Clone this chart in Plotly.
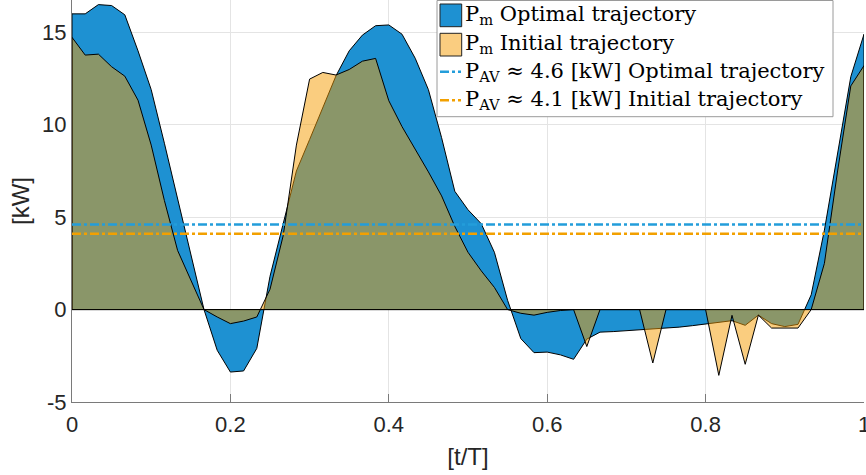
import plotly.graph_objects as go

# Normalised time grid (one period, 61 samples)
t = [k / 60 for k in range(61)]

# Mechanical power [kW] along the optimal trajectory
p_opt = [16.0, 16.0, 16.5, 16.45, 15.95, 14.0, 11.9, 9.0, 6.0, 2.9,
         0.0, -2.2, -3.38, -3.32, -2.1, 1.8, 4.7, 7.5, 9.2, 10.9,
         12.65, 14.0, 14.85, 15.36, 15.4, 14.9, 13.6, 11.9, 9.3, 6.4,
         5.4, 4.65, 3.1, 0.5, -1.57, -2.33, -2.3, -2.45, -2.69, -1.6,
         -1.22, -1.19, -1.15, -1.11, -1.07, -1.02, -0.95, -0.87, -0.77, -0.7,
         -0.6, -0.85, -0.3, -0.76, -0.92, -0.8, 0.8, 4.3, 8.5, 12.6,
         14.9]

# Mechanical power [kW] along the initial trajectory
p_init = [14.73, 13.77, 13.82, 13.14, 12.63, 11.33, 8.9, 5.9, 3.2, 1.6,
          0.0, -0.4, -0.76, -0.62, -0.4, 1.1, 4.0, 8.9, 12.47, 12.83,
          12.69, 12.99, 13.44, 13.59, 11.3, 9.9, 8.7, 7.45, 6.15, 4.5,
          3.1, 2.1, 1.2, 0.0, -0.2, -0.3, -0.15, -0.05, 0.0, -2.0,
          0.0, 0.0, 0.0, 0.0, -2.89, 0.0, 0.0, 0.0, 0.0, -3.56,
          -0.31, -2.96, -0.3, -1.0, -1.02, -1.0, 0.0, 2.5, 7.5, 12.1,
          13.2]

# Average power levels [kW]
pav_opt = 4.6
pav_init = 4.1

x_ticks = [0, 0.2, 0.4, 0.6, 0.8, 1]
x_tick_labels = ["0", "0.2", "0.4", "0.6", "0.8", "1"]
y_ticks = [-5, 0, 5, 10, 15]
y_tick_labels = ["-5", "0", "5", "10", "15"]

legend_labels = [
    "P<sub>m</sub> Optimal trajectory",
    "P<sub>m</sub> Initial trajectory",
    "P<sub>AV</sub> \u2248 %.1f [kW] Optimal trajectory" % pav_opt,
    "P<sub>AV</sub> \u2248 %.1f [kW] Initial trajectory" % pav_init,
]

BLUE = "rgb(30,145,210)"
ORANGE = "rgba(245,155,0,0.5)"
BLUE_LINE = "rgb(35,157,218)"
ORANGE_LINE = "rgb(242,160,0)"
DASHDOT = "9px,3px,3px,3px"

W, H = 866, 475
ML, MR, MT, MB = 72, 2, 0, 73
PW, PH = W - ML - MR, H - MT - MB


def px(xp):
    return (xp - ML) / PW


def py(yp):
    return 1 - (yp - MT) / PH


def area_polygon(xs, ys):
    # closed outline: baseline -> curve -> baseline -> start
    return [xs[0]] + xs + [xs[-1], xs[0]], [0] + ys + [0, 0]


fig = go.Figure()

ax, ay = area_polygon(t, p_opt)
fig.add_trace(go.Scatter(x=ax, y=ay, mode="lines", fill="toself",
                         fillcolor=BLUE, line=dict(color="black", width=1),
                         showlegend=False, hoverinfo="skip"))
ax, ay = area_polygon(t, p_init)
fig.add_trace(go.Scatter(x=ax, y=ay, mode="lines", fill="toself",
                         fillcolor=ORANGE, line=dict(color="black", width=1),
                         showlegend=False, hoverinfo="skip"))

fig.add_trace(go.Scatter(x=[t[0], t[-1]], y=[pav_opt, pav_opt], mode="lines",
                         line=dict(color=BLUE_LINE, width=2.5, dash=DASHDOT),
                         showlegend=False, hoverinfo="skip"))
fig.add_trace(go.Scatter(x=[t[0], t[-1]], y=[pav_init, pav_init], mode="lines",
                         line=dict(color=ORANGE_LINE, width=2.5, dash=DASHDOT),
                         showlegend=False, hoverinfo="skip"))

# Legend drawn as shapes + text
shapes = [
    dict(type="rect", xref="paper", yref="paper",
         x0=px(437), x1=px(833), y0=py(116.7), y1=py(0.5),
         line=dict(color="#9a9a9a", width=1), fillcolor="white", layer="above"),
    dict(type="rect", xref="paper", yref="paper",
         x0=px(440), x1=px(461.7), y0=py(26.7), y1=py(4),
         line=dict(color="#222", width=1), fillcolor=BLUE, layer="above"),
    dict(type="rect", xref="paper", yref="paper",
         x0=px(440), x1=px(461.7), y0=py(56), y1=py(33.3),
         line=dict(color="#222", width=1), fillcolor="rgb(250,205,128)", layer="above"),
    dict(type="line", xref="paper", yref="paper",
         x0=px(440), x1=px(461), y0=py(71.7), y1=py(71.7),
         line=dict(color=BLUE_LINE, width=2.5, dash=DASHDOT), layer="above"),
    dict(type="line", xref="paper", yref="paper",
         x0=px(440), x1=px(461), y0=py(100.3), y1=py(100.3),
         line=dict(color=ORANGE_LINE, width=2.5, dash=DASHDOT), layer="above"),
]

row_centers = [15.3, 44.5, 71.7, 100.3]
annotations = []
for label, yc in zip(legend_labels, row_centers):
    annotations.append(dict(text=label, xref="paper", yref="paper",
                            x=px(463), y=py(yc), xanchor="left", yanchor="middle",
                            showarrow=False,
                            font=dict(family="DejaVu Serif", size=21, color="black")))

axis_common = dict(
    ticks="inside", ticklen=8, tickcolor="#7a7a7a", tickwidth=1,
    showline=True, linecolor="#7a7a7a", linewidth=1,
    showgrid=True, gridcolor="#e4e4e4", gridwidth=1,
    zeroline=False, layer="below traces", mirror=False,
    tickfont=dict(family="Liberation Sans", size=22, color="#262626"),
    tickmode="array", ticklabeloverflow="allow", automargin=False,
)

fig.update_layout(
    width=W, height=H,
    margin=dict(l=ML, r=MR, t=MT, b=MB, pad=0, autoexpand=False),
    paper_bgcolor="white", plot_bgcolor="white",
    showlegend=False,
    shapes=shapes, annotations=annotations,
    xaxis=dict(range=[0, 1], tickvals=x_ticks, ticktext=x_tick_labels,
               ticklabelstandoff=3,
               title=dict(text="[t/T]", standoff=11,
                          font=dict(family="Liberation Sans", size=24, color="#262626")),
               **axis_common),
    yaxis=dict(range=[-5, 16.75], tickvals=y_ticks, ticktext=y_tick_labels,
               title=dict(text="[kW]", standoff=5,
                          font=dict(family="Liberation Sans", size=24, color="#262626")),
               **axis_common),
)

fig.write_html("out.html")
